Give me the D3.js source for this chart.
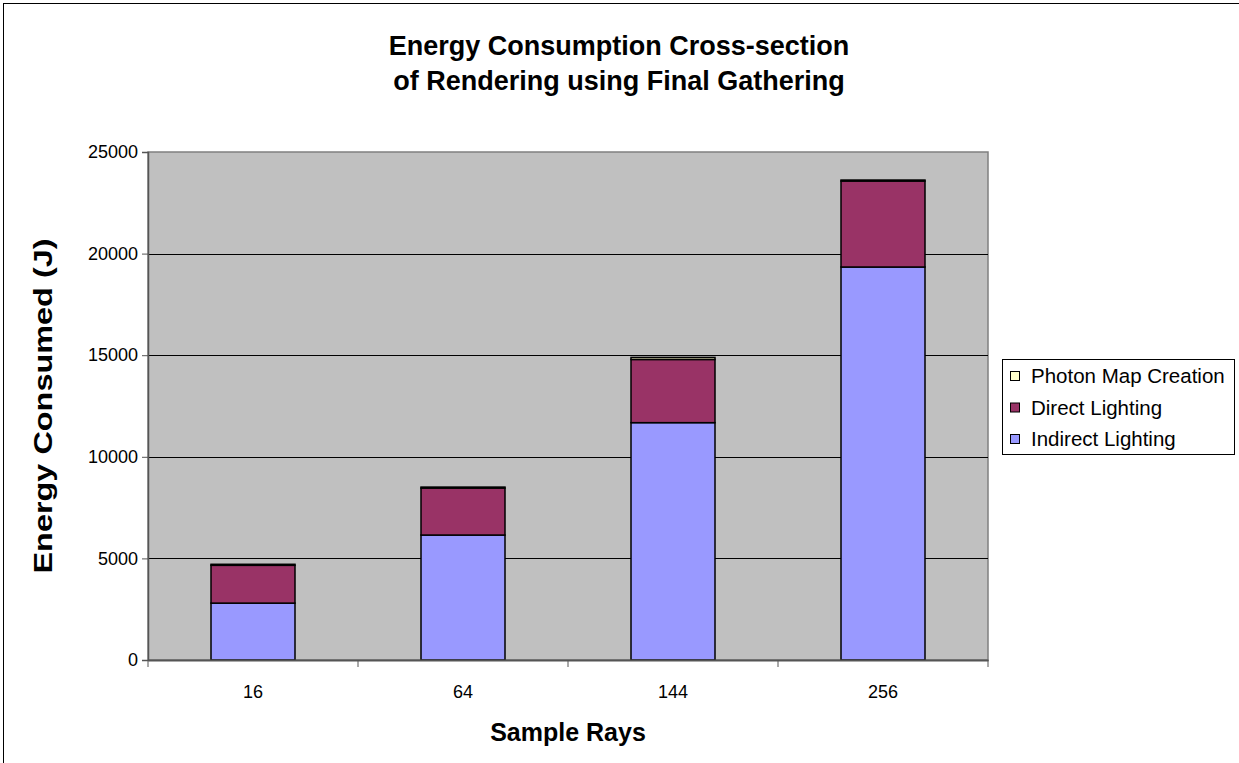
<!DOCTYPE html>
<html><head><meta charset="utf-8">
<script src="https://cdn.jsdelivr.net/npm/d3@7"></script>
<style>body{margin:0;background:#fff;}svg{display:block;font-family:"Liberation Sans",Arial,sans-serif;}</style>
</head><body>
<svg id="c" width="1239" height="763"></svg>
<script>
const categories = ["16", "64", "144", "256"];
const seriesNames = ["Indirect Lighting", "Direct Lighting", "Photon Map Creation"];
const indirectLighting = [2800, 6150, 11680, 19340];
const directLighting = [1860, 2310, 3110, 4230];
const photonMapCreation = [50, 50, 100, 50];
const yTicks = [0, 5000, 10000, 15000, 20000, 25000];
const colors = ["#9999ff", "#993366", "#ffffcc"];

const svg = d3.select("#c");
svg.append("rect").attr("x",3.5).attr("y",3.5).attr("width",1240).attr("height",770)
  .attr("fill","#fff").attr("stroke","#000").attr("stroke-width",1);

const L=148, R=988, T=152, B=660;
const x = d3.scaleBand().domain(categories).range([L,R]).paddingInner(0.6).paddingOuter(0.3);
const y = d3.scaleLinear().domain([0,25000]).range([B,T]);

svg.append("rect").attr("x",L).attr("y",T).attr("width",R-L).attr("height",B-T)
  .attr("fill","#c0c0c0").attr("stroke","#808080").attr("stroke-width",1.5);

// gridlines
svg.append("g").selectAll("line").data(yTicks.filter(d=>d>0&&d<25000)).join("line")
  .attr("x1",L).attr("x2",R).attr("y1",d=>Math.round(y(d))+0.5).attr("y2",d=>Math.round(y(d))+0.5)
  .attr("stroke","#000").attr("stroke-width",1);

// stacks
const table = categories.map((c,i)=>({cat:c, "Indirect Lighting":indirectLighting[i], "Direct Lighting":directLighting[i], "Photon Map Creation":photonMapCreation[i]}));
const stack = d3.stack().keys(seriesNames)(table);
svg.append("g").selectAll("g").data(stack).join("g")
  .attr("fill",(d,i)=>colors[i])
  .selectAll("rect").data(d=>d).join("rect")
  .attr("x",d=>x(d.data.cat)).attr("width",x.bandwidth())
  .attr("y",d=>y(d[1])).attr("height",d=>y(d[0])-y(d[1]))
  .attr("stroke","#000").attr("stroke-width",1.5);

// y axis
const yAxis = d3.axisLeft(y).tickValues(yTicks).tickSize(6).tickPadding(4).tickFormat(d3.format("d"));
const ya = svg.append("g").attr("transform",`translate(${L},0)`).call(yAxis);
ya.attr("font-size",null).attr("font-family",null);
ya.select(".domain").attr("stroke","#555").attr("stroke-width",1.5);
ya.selectAll(".tick line").attr("stroke","#555");
ya.selectAll("text").style("font-size","18px").attr("fill","#000");

// x axis
const xa = svg.append("g").attr("transform",`translate(0,${B})`)
  .call(d3.axisBottom(x).tickSize(0).tickPadding(25));
xa.attr("font-size",null).attr("font-family",null);
xa.select(".domain").attr("stroke","#555").attr("stroke-width",2);
xa.selectAll("text").style("font-size","18px").attr("fill","#000");
const step = x.step();
const bounds = d3.range(categories.length+1).map(i=>L+i*step);
svg.append("g").selectAll("line").data(bounds).join("line")
  .attr("x1",d=>d).attr("x2",d=>d).attr("y1",B).attr("y2",B+7).attr("stroke","#555").attr("stroke-width",1);

// titles
const title = svg.append("text").attr("text-anchor","middle").attr("font-weight","bold").style("font-size","27px");
title.append("tspan").attr("x",619).attr("y",55).text("Energy Consumption Cross-section");
title.append("tspan").attr("x",619).attr("y",90).text("of Rendering using Final Gathering");
svg.append("text").attr("x",(L+R)/2).attr("y",741).attr("text-anchor","middle")
  .attr("font-weight","bold").style("font-size","25px").text("Sample Rays");
svg.append("text").attr("transform",`translate(52,${(T+B)/2}) rotate(-90)`).attr("text-anchor","middle")
  .attr("font-weight","bold").style("font-size","25px")
  .attr("textLength",335).attr("lengthAdjust","spacingAndGlyphs").text("Energy Consumed (J)");

// legend
const lg = svg.append("g");
lg.append("rect").attr("x",1002.5).attr("y",359.5).attr("width",232).attr("height",95)
  .attr("fill","#fff").attr("stroke","#000").attr("stroke-width",1);
const legendItems = seriesNames.slice().reverse();
const li = lg.selectAll("g.it").data(legendItems).join("g").attr("class","it")
  .attr("transform",(d,i)=>`translate(1010,${376+i*31.5})`);
li.append("rect").attr("x",0.5).attr("y",-4.5).attr("width",9).attr("height",9)
  .attr("fill",d=>colors[seriesNames.indexOf(d)]).attr("stroke","#000").attr("stroke-width",1);
li.append("text").attr("x",21).attr("y",7).style("font-size","20.5px").text(d=>d);
</script>
</body></html>
